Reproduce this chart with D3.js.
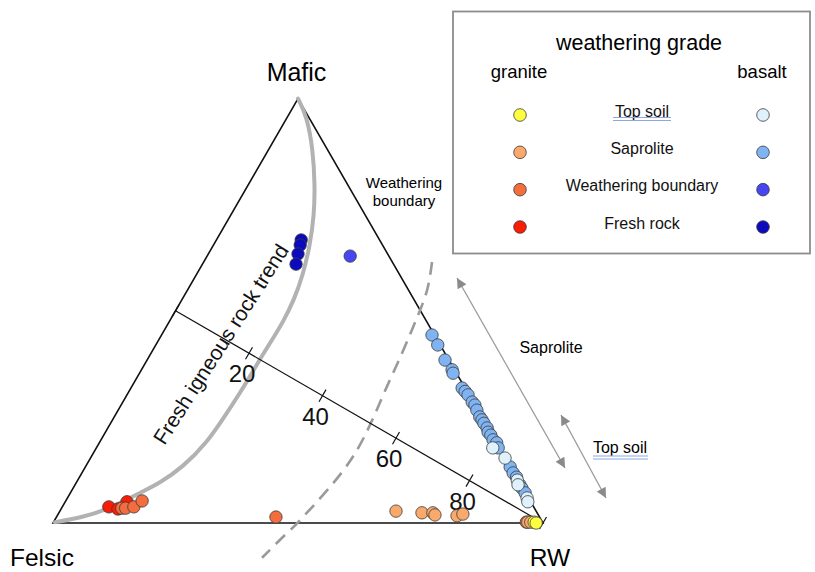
<!DOCTYPE html>
<html><head><meta charset="utf-8">
<script src="https://cdn.jsdelivr.net/npm/d3@7"></script>
<style>body{margin:0;background:#fff}svg{display:block;font-family:"Liberation Sans",Arial,sans-serif}</style>
</head><body>
<svg id="c" width="815" height="572"></svg>
<script>
// ternary data: [Mafic, Felsic, RW] in %
const vertexLabels = ["Mafic", "Felsic", "RW"];
const axisTicks = [0, 20, 40, 60, 80, 100];
const axisTickLabels = ["", "20", "40", "60", "80", ""];

const freshTrend = [[100,0,0],[95.7,0.3,4.0],[87.9,3.0,9.1],[79.7,6.7,13.6],[72.6,10.4,17.0],[65.5,14.8,19.7],[58.4,19.8,21.8],[52.6,24.5,22.9],[47.4,29.4,23.3],[42.4,34.5,23.1],[37.9,39.2,22.9],[31.3,45.8,22.9],[25.9,51.5,22.5],[18.9,59.1,22.0],[13.2,66.9,19.9],[9.4,73.5,17.1],[7.1,78.7,14.2],[3.1,87.4,9.5],[1.2,93.9,4.9],[0.2,99.5,0.3]];
const weatheringBoundary = [[61.5,-8.1,46.6],[54.9,-3.8,48.9],[45.5,4.0,50.5],[33.7,14.4,51.9],[15.6,31.0,53.4],[0.7,49.2,50.1],[-4.0,55.7,48.3],[-8.2,61.5,46.8]];

const granitePoints = {
  "Fresh rock": [[3.8,86.7,9.5],[3.3,85.1,11.6],[5.0,82.4,12.6]],
  "Weathering boundary": [[3.5,84.2,12.3],[3.5,83.5,13.1],[3.8,81.6,14.6],[5.2,79.3,15.6],[1.4,53.8,44.8],[0.2,3.3,96.5]],
  "Saprolite": [[2.8,28.6,68.6],[2.4,23.5,74.1],[2.4,21.3,76.4],[1.9,21.1,77.0],[1.7,16.7,81.6],[2.1,15.3,82.6],[0.2,3.0,96.8],[0.2,2.4,97.4]],
  "Top soil": [[0.2,1.7,98.1],[0,1.4,98.6]]
};
const basaltPoints = {
  "Fresh rock": [[66.7,16.0,17.3],[65.5,16.8,17.7],[63.4,18.3,18.3],[61.0,19.9,19.1]],
  "Weathering boundary": [[62.9,7.9,29.2]],
  "Saprolite": [[44.3,0.5,55.2],[42.0,0.5,57.6],[38.4,0.8,60.8],[36.1,0.5,63.4],[35.3,0.7,64.0],[31.8,0.6,67.6],[31.0,0.4,68.6],[30.2,0.2,69.6],[28.5,0.2,71.3],[27.8,0.0,72.2],[26.6,0.2,73.2],[25.0,0.4,74.6],[24.3,0.3,75.4],[23.5,0.3,76.2],[22.4,0.2,77.4],[21.4,0.5,78.1],[20.7,0.3,79.0],[19.6,0.4,80.0],[18.9,0,81.1],[17.7,0.3,82.0],[13.2,0.1,86.7],[11.8,0.2,88.0],[10.8,0,89.2],[9.0,0.2,90.8],[8.2,0.2,91.6],[7.1,0.1,92.8]],
  "Top soil": [[17.7,1.4,80.9],[15.3,0.1,84.6],[10.1,0.2,89.7],[9.0,0.6,90.4],[5.9,0.3,93.8],[5.0,0.6,94.4]]
};
const grades = ["Top soil", "Saprolite", "Weathering boundary", "Fresh rock"];
const graniteColors = ["#ffff40", "#f9a96c", "#f36d3e", "#fb1c06"];
const basaltColors = ["#dff1fb", "#80b3f1", "#4646f2", "#0b0bbd"];

const svg = d3.select("#c");
const xs = d3.scaleLinear().domain([0, 1]).range([53, 543]);
const ys = d3.scaleLinear().domain([0, 1]).range([523, 33]);
const S3 = Math.sqrt(3) / 2;
function px(d) { const s = d[0] + d[1] + d[2]; const M = d[0]/s, W = d[2]/s; return xs(W + M/2); }
function py(d) { const s = d[0] + d[1] + d[2]; const M = d[0]/s; return ys(M * S3); }
const P = d => [px(d), py(d)];

// triangle
const verts = [[100,0,0],[0,100,0],[0,0,100]];
svg.append("path").attr("d", d3.line()(verts.map(P)) + "Z")
  .attr("fill", "none").attr("stroke", "#111").attr("stroke-width", 1.6).attr("stroke-linejoin", "miter");

// fresh igneous trend
svg.append("path").attr("d", d3.line().x(px).y(py).curve(d3.curveBasis)(freshTrend))
  .attr("fill", "none").attr("stroke", "#b2b2b2").attr("stroke-width", 4).attr("stroke-linecap", "round");

// weathering boundary (dashed)
svg.append("path").attr("d", d3.line().x(px).y(py).curve(d3.curveCatmullRom)(weatheringBoundary))
  .attr("fill", "none").attr("stroke", "#9a9a9a").attr("stroke-width", 2.6).attr("stroke-dasharray", "13,8");

// axis (median from F-M midpoint to RW)
const axPt = t => [(100 - t) / 2, (100 - t) / 2, t];
svg.append("line").attr("x1", px(axPt(0))).attr("y1", py(axPt(0))).attr("x2", px(axPt(100))).attr("y2", py(axPt(100)))
  .attr("stroke", "#111").attr("stroke-width", 1.2);
const a0 = P(axPt(0)), a1 = P(axPt(100));
const L = Math.hypot(a1[0]-a0[0], a1[1]-a0[1]);
const ux = (a1[0]-a0[0]) / L, uy = (a1[1]-a0[1]) / L;
const nx = -uy, ny = ux;
axisTicks.forEach((t, i) => {
  const c = P(axPt(t));
  svg.append("line").attr("x1", c[0] - nx*7).attr("y1", c[1] - ny*7).attr("x2", c[0] + nx*7).attr("y2", c[1] + ny*7)
    .attr("stroke", "#111").attr("stroke-width", 1.2);
  if (axisTickLabels[i]) svg.append("text").attr("x", c[0] - 7).attr("y", c[1] + 29)
    .attr("text-anchor", "middle").attr("font-size", 24).attr("fill", "#111").text(axisTickLabels[i]);
});

// points
function drawSet(obj, colors) {
  grades.slice().reverse().forEach(g => {
    const col = colors[grades.indexOf(g)];
    svg.append("g").selectAll("circle").data(obj[g]).join("circle")
      .attr("cx", px).attr("cy", py).attr("r", 6.2)
      .attr("fill", col).attr("stroke", "#3a3a3a").attr("stroke-width", 0.8);
  });
}
drawSet(granitePoints, graniteColors);
drawSet(basaltPoints, basaltColors);

// vertex labels
svg.append("text").attr("x", 296.5).attr("y", 81).attr("text-anchor", "middle").attr("font-size", 25).text(vertexLabels[0]);
svg.append("text").attr("x", 10).attr("y", 566).attr("text-anchor", "start").attr("font-size", 24.5).text(vertexLabels[1]);
svg.append("text").attr("x", 550).attr("y", 566).attr("text-anchor", "middle").attr("font-size", 24.5).text(vertexLabels[2]);

// trend label
svg.append("text").attr("transform", "translate(227,348) rotate(-57.5)")
  .attr("text-anchor", "middle").attr("font-size", 21).attr("fill", "#111")
  .text("Fresh igneous rock trend");

// weathering boundary label
svg.append("text").attr("x", 404).attr("y", 188).attr("text-anchor", "middle").attr("font-size", 15).text("Weathering");
svg.append("text").attr("x", 404).attr("y", 206).attr("text-anchor", "middle").attr("font-size", 15).text("boundary");

// arrows
const defs = svg.append("defs");
defs.append("marker").attr("id", "ah").attr("viewBox", "0 0 10 10").attr("refX", 10).attr("refY", 5)
  .attr("markerWidth", 12).attr("markerHeight", 10).attr("markerUnits", "userSpaceOnUse").attr("orient", "auto-start-reverse")
  .append("path").attr("d", "M0,0L10,5L0,10Z").attr("fill", "#8a8a8a");
function arrow(x1, y1, x2, y2) {
  svg.append("line").attr("x1", x1).attr("y1", y1).attr("x2", x2).attr("y2", y2)
    .attr("stroke", "#9a9a9a").attr("stroke-width", 1.3)
    .attr("marker-start", "url(#ah)").attr("marker-end", "url(#ah)");
}
arrow(457, 278, 565, 468);
arrow(561, 415, 606, 498);
svg.append("text").attr("x", 551).attr("y", 353).attr("text-anchor", "middle").attr("font-size", 16).text("Saprolite");
svg.append("text").attr("x", 620).attr("y", 453).attr("text-anchor", "middle").attr("font-size", 16).text("Top soil");
[456, 459].forEach(y => svg.append("line").attr("x1", 593).attr("x2", 648).attr("y1", y).attr("y2", y).attr("stroke", "#8ea6e6").attr("stroke-width", 1));

// legend
const lg = svg.append("g");
lg.append("rect").attr("x", 453).attr("y", 11.5).attr("width", 357).attr("height", 242)
  .attr("fill", "#fff").attr("stroke", "#8c8c8c").attr("stroke-width", 1.8);
lg.append("text").attr("x", 639).attr("y", 50).attr("text-anchor", "middle").attr("font-size", 21.5).text("weathering grade");
lg.append("text").attr("x", 519).attr("y", 78).attr("text-anchor", "middle").attr("font-size", 18.5).text("granite");
lg.append("text").attr("x", 762).attr("y", 78).attr("text-anchor", "middle").attr("font-size", 18.5).text("basalt");
const rowY = d3.scalePoint().domain(grades).range([115, 227]);
grades.forEach((g, i) => {
  const y = rowY(g);
  lg.append("circle").attr("cx", 520).attr("cy", y).attr("r", 6.3).attr("fill", graniteColors[i]).attr("stroke", "#3a3a3a").attr("stroke-width", 0.8);
  lg.append("circle").attr("cx", 763).attr("cy", y).attr("r", 6.3).attr("fill", basaltColors[i]).attr("stroke", "#3a3a3a").attr("stroke-width", 0.8);
  lg.append("text").attr("x", 642).attr("y", y + 1.5).attr("text-anchor", "middle").attr("font-size", 16).attr("fill", "#111").text(g);
});
[117.5, 120.5].forEach(y => lg.append("line").attr("x1", 613).attr("x2", 671).attr("y1", y).attr("y2", y).attr("stroke", "#8ea6e6").attr("stroke-width", 1));
</script>
</body></html>
